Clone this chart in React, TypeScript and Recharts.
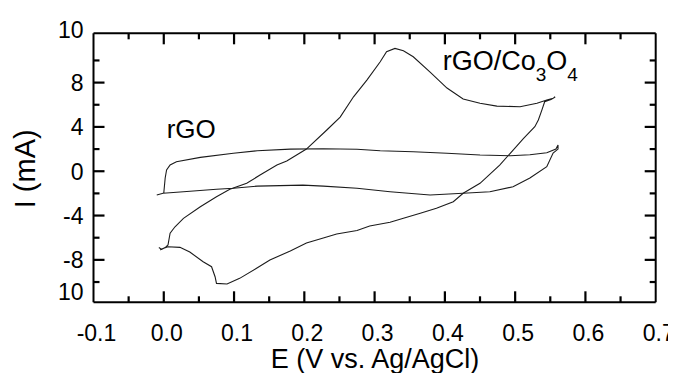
import React from 'react';
import { LineChart, Line, XAxis, YAxis } from 'recharts';

// ---- data (E in V vs Ag/AgCl, I in mA) ----
const rgoE = [-0.010, -0.001, 0.028, 0.075, 0.099, 0.133, 0.198, 0.227, 0.275, 0.322, 0.379, 0.426, 0.464, 0.497, 0.521, 0.545, 0.554, 0.561, 0.561, 0.558, 0.545, 0.521, 0.493, 0.450, 0.403, 0.355, 0.308, 0.275, 0.227, 0.180, 0.133, 0.099, 0.052, 0.018, 0.009, 0.004, 0.002, 0.000];
const rgoI = [-2.15, -1.99, -1.85, -1.63, -1.54, -1.34, -1.25, -1.34, -1.54, -1.85, -2.15, -1.99, -1.85, -1.40, -0.61, 0.41, 1.64, 2.00, 2.36, 2.00, 1.67, 1.49, 1.40, 1.46, 1.62, 1.76, 1.85, 1.98, 2.03, 2.00, 1.85, 1.62, 1.25, 0.86, 0.56, 0.11, -0.61, -1.97];

const coE = [-0.007, -0.003, 0.002, 0.006, 0.009, 0.016, 0.028, 0.052, 0.075, 0.094, 0.118, 0.137, 0.161, 0.175, 0.203, 0.232, 0.251, 0.270, 0.289, 0.308, 0.317, 0.329, 0.341, 0.355, 0.379, 0.403, 0.426, 0.450, 0.474, 0.507, 0.531, 0.545, 0.554, 0.557, 0.551, 0.542, 0.538, 0.533, 0.528, 0.512, 0.493, 0.478, 0.450, 0.426, 0.412, 0.388, 0.365, 0.341, 0.322, 0.293, 0.275, 0.246, 0.227, 0.203, 0.180, 0.151, 0.132, 0.108, 0.090, 0.075, 0.073, 0.068, 0.056, 0.037, 0.023, 0.006, -0.003, -0.005];
const coI = [-6.89, -7.05, -6.89, -6.66, -5.60, -5.01, -4.25, -3.20, -2.30, -1.63, -1.09, -0.34, 0.56, 0.92, 2.00, 3.72, 4.89, 6.72, 8.23, 9.88, 10.79, 11.09, 10.88, 10.33, 8.95, 7.51, 6.52, 6.13, 5.88, 5.82, 6.13, 6.43, 6.58, 6.70, 6.47, 6.27, 5.52, 4.62, 4.02, 2.97, 1.62, 0.56, -1.09, -1.99, -2.75, -3.35, -3.80, -4.25, -4.61, -4.95, -5.35, -5.67, -6.03, -6.48, -7.20, -8.01, -8.76, -9.67, -10.18, -10.12, -9.52, -8.62, -8.17, -7.29, -6.87, -6.81, -7.02, -7.11];

const rgoData = rgoE.map((e, i) => ({ E: e, I: rgoI[i] }));
const coData = coE.map((e, i) => ({ E: e, I: coI[i] }));

// ---- ticks ----
const xDomain = [-0.1, 0.7];
const xMajorTicks = [-0.1, 0, 0.1, 0.2, 0.3, 0.4, 0.5, 0.6, 0.7];
const xTickLabels = ['-0.1', '0.0', '0.1', '0.2', '0.3', '0.4', '0.5', '0.6', '0.7'];
const xMinorTicks = [-0.05, 0.05, 0.15, 0.25, 0.35, 0.45, 0.55, 0.65];

const yDomain = [-11.83, 12.45];
const yMajorTicks = [-8, -4, 0, 4, 8];
const yMinorTicks = [-10, -6, -2, 2, 6, 10];
const yLabelTicks = [-10.9, -8, -4, 0, 4, 8, 12.45];
const yTickLabels = ['10', '-8', '-4', '0', '4', '8', '10'];

// ---- layout ----
const W = 668;
const H = 365;
const PL = 85.5;
const PR = 647.7;
const PT = 25.3;
const PB = 294.3;
const FONT = 'Liberation Sans, Arial, sans-serif';
const MAJOR = 11;
const MINOR = 6;
const TICK_W = 2.2;
const INK = '#000';

// same linear mapping as the chart's axes (same domain, same plot rectangle)
const pxPerE = (PR - PL) / (xDomain[1] - xDomain[0]);
const pxPerI = (PB - PT) / (yDomain[1] - yDomain[0]);
const sx = (v: number) => PL + (v - xDomain[0]) * pxPerE;
const sy = (v: number) => PB - (v - yDomain[0]) * pxPerI;

const near = (a: number, b: number) => Math.abs(a - b) < 1e-6;
const idxIn = (arr: number[], v: number) => arr.findIndex((t) => near(t, v));

const xTickVals = [...xMajorTicks.slice(1, -1), ...xMinorTicks];
const yTickVals = [...yMajorTicks, ...yMinorTicks];

const renderBottomTick = (props: any) => {
  const { x, payload, index } = props;
  const mi = idxIn(xMajorTicks, payload.value);
  if (mi < 0) return <g key={'b' + index} />;
  return (
    <text key={'b' + index} x={x + 3} y={PB + 38.5} textAnchor="middle" fontSize={23} fontFamily={FONT} fill={INK}>
      {xTickLabels[mi]}
    </text>
  );
};

const renderLeftTick = (props: any) => {
  const { y, payload, index } = props;
  const li = idxIn(yLabelTicks, payload.value);
  if (li < 0) return <g key={'l' + index} />;
  const shift = li === yLabelTicks.length - 1 ? -3.3 : 0;
  return (
    <text key={'l' + index} x={PL - 10} y={y + shift} dy="0.36em" textAnchor="end" fontSize={23} fontFamily={FONT} fill={INK}>
      {yTickLabels[li]}
    </text>
  );
};

const axisLine = { stroke: INK, strokeWidth: 2 };

const FrameTicks = () => (
  <g>
    {xTickVals.map((v) => {
      const len = idxIn(xMajorTicks, v) >= 0 ? MAJOR : MINOR;
      const x = sx(v);
      return (
        <g key={'x' + v}>
          <line x1={x} x2={x} y1={PB} y2={PB - len} stroke={INK} strokeWidth={TICK_W} />
          <line x1={x} x2={x} y1={PT} y2={PT + len} stroke={INK} strokeWidth={TICK_W} />
        </g>
      );
    })}
    {yTickVals.map((v) => {
      const len = idxIn(yMajorTicks, v) >= 0 ? MAJOR : MINOR;
      const y = sy(v);
      return (
        <g key={'y' + v}>
          <line x1={PL} x2={PL + len} y1={y} y2={y} stroke={INK} strokeWidth={TICK_W} />
          <line x1={PR} x2={PR - len} y1={y} y2={y} stroke={INK} strokeWidth={TICK_W} />
        </g>
      );
    })}
  </g>
);

export default function App() {
  return (
    <div style={{ position: 'relative', width: W, height: H }}>
      <LineChart width={W} height={H} margin={{ top: PT - 1, right: W - PR - 1, bottom: 0, left: 0 }}>
        <XAxis
          xAxisId="b"
          type="number"
          dataKey="E"
          domain={xDomain}
          ticks={xMajorTicks}
          interval={0}
          height={H - PB}
          axisLine={axisLine}
          tickLine={false}
          tick={renderBottomTick}
          allowDataOverflow
        />
        <XAxis
          xAxisId="t"
          orientation="top"
          type="number"
          dataKey="E"
          domain={xDomain}
          ticks={xMajorTicks}
          height={1}
          axisLine={axisLine}
          tickLine={false}
          tick={false}
          allowDataOverflow
        />
        <YAxis
          yAxisId="l"
          type="number"
          dataKey="I"
          domain={yDomain}
          ticks={yLabelTicks}
          interval={0}
          width={PL}
          axisLine={axisLine}
          tickLine={false}
          tick={renderLeftTick}
          allowDataOverflow
        />
        <YAxis
          yAxisId="r"
          orientation="right"
          type="number"
          dataKey="I"
          domain={yDomain}
          ticks={yMajorTicks}
          width={1}
          axisLine={axisLine}
          tickLine={false}
          tick={false}
          allowDataOverflow
        />
        <Line
          xAxisId="b"
          yAxisId="l"
          data={rgoData}
          dataKey="I"
          type="linear"
          stroke="#1c1c1c"
          strokeWidth={1.1}
          dot={false}
          isAnimationActive={false}
        />
        <Line
          xAxisId="b"
          yAxisId="l"
          data={coData}
          dataKey="I"
          type="linear"
          stroke="#1c1c1c"
          strokeWidth={1.1}
          dot={false}
          isAnimationActive={false}
        />
      </LineChart>
      <svg
        width={W}
        height={H}
        style={{ position: 'absolute', left: 0, top: 0, pointerEvents: 'none' }}
      >
        <FrameTicks />
        <text x={367} y={359.5} textAnchor="middle" fontSize={27} fontFamily={FONT} fill={INK}>
          E (V vs. Ag/AgCl)
        </text>
        <text
          x={27}
          y={160.8}
          transform="rotate(-90, 27, 160.8)"
          textAnchor="middle"
          fontSize={29}
          fontFamily={FONT}
          fill={INK}
        >
          I (mA)
        </text>
        <text x={158.7} y={130} fontSize={26} fontFamily={FONT} fill={INK}>
          rGO
        </text>
        <text x={434.7} y={62} fontSize={27} fontFamily={FONT} fill={INK}>
          rGO/Co
          <tspan fontSize={19} dy={11}>3</tspan>
          <tspan fontSize={27} dy={-11}>O</tspan>
          <tspan fontSize={19} dy={11}>4</tspan>
        </text>
      </svg>
    </div>
  );
}
